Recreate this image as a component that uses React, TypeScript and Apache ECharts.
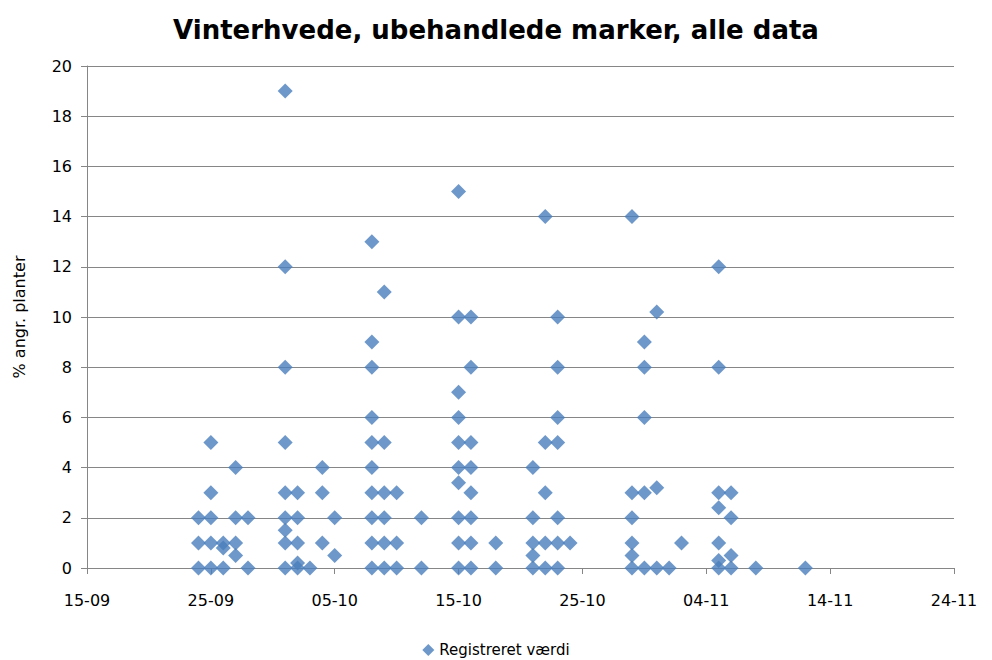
import React, { useEffect, useRef } from "react";
import * as echarts from "echarts";

const titleText = "Vinterhvede, ubehandlede marker, alle data";
const yAxisTitle = "% angr. planter";
const seriesName = "Registreret værdi";
const baseDate = "15-09";
const xTickLabels = ["15-09", "25-09", "05-10", "15-10", "25-10", "04-11", "14-11", "24-11"];

const obsDates = [
  "24-09", "25-09", "26-09", "27-09", "28-09",
  "01-10", "02-10", "03-10", "04-10", "05-10",
  "08-10", "09-10", "10-10", "12-10", "15-10",
  "16-10", "18-10", "21-10", "22-10", "23-10",
  "24-10", "29-10", "30-10", "31-10", "01-11",
  "02-11", "05-11", "06-11", "08-11", "12-11",
];
const obsValues: number[][] = [
  [2, 1, 0], [5, 3, 2, 1, 0], [1, 0.8, 0], [4, 2, 1, 0.5], [2, 0],
  [19, 12, 8, 5, 3, 2, 1.5, 1, 0], [3, 2, 1, 0.2, 0], [0], [4, 3, 1], [2, 0.5],
  [13, 9, 8, 6, 5, 4, 3, 2, 1, 0], [11, 5, 3, 2, 1, 0], [3, 1, 0], [2, 0], [15, 10, 7, 6, 5, 4, 3.4, 2, 1, 0],
  [10, 8, 5, 4, 3, 2, 1, 0], [1, 0], [4, 2, 1, 0.5, 0], [14, 5, 3, 1, 0], [10, 8, 6, 5, 2, 1, 0],
  [1], [14, 3, 2, 1, 0.5, 0], [9, 8, 6, 3, 0], [10.2, 3.2, 0], [0],
  [1], [12, 8, 3, 2.4, 1, 0.3, 0], [3, 2, 0.5, 0], [0], [0],
];

function dayOffset(s: string): number {
  const [d, m] = s.split("-").map(Number);
  const [bd, bm] = baseDate.split("-").map(Number);
  return Math.round((Date.UTC(2010, m - 1, d) - Date.UTC(2010, bm - 1, bd)) / 86400000);
}

export default function App() {
  const ref = useRef<HTMLDivElement>(null);
  useEffect(() => {
    document.body.style.margin = "0";
    if (!ref.current) return;
    const chart = echarts.init(ref.current, undefined, { renderer: "svg" });
    const points: number[][] = [];
    obsDates.forEach((d, i) => {
      const x = dayOffset(d);
      obsValues[i].forEach((v) => points.push([x, v]));
    });
    const font = "'DejaVu Sans', sans-serif";
    chart.setOption({
      animation: false,
      backgroundColor: "#ffffff",
      textStyle: { fontFamily: font },
      title: {
        text: titleText,
        left: "center",
        top: 12,
        textStyle: { fontFamily: font, fontSize: 26, fontWeight: "bold", color: "#000000" },
      },
      legend: {
        top: 642,
        left: "center",
        padding: 0,
        icon: "diamond",
        itemWidth: 12,
        itemHeight: 12,
        itemGap: 4,
        textStyle: { fontFamily: font, fontSize: 15, lineHeight: 16, color: "#000000" },
        data: [seriesName],
      },
      grid: { left: 87, right: 38, top: 66, bottom: 92, containLabel: false },
      xAxis: {
        type: "value",
        min: 0,
        max: 70,
        interval: 10,
        axisLine: { show: true, lineStyle: { color: "#868686", width: 1 } },
        axisTick: { show: true, length: 6, lineStyle: { color: "#868686" } },
        splitLine: { show: false },
        axisLabel: {
          fontFamily: font,
          fontSize: 16,
          color: "#000000",
          margin: 24,
          formatter: (v: number) => xTickLabels[Math.round(v / 10)] ?? "",
        },
      },
      yAxis: {
        type: "value",
        min: 0,
        max: 20,
        interval: 2,
        name: yAxisTitle,
        nameLocation: "middle",
        nameRotate: 90,
        nameGap: 60,
        nameTextStyle: { fontFamily: font, fontSize: 16, color: "#000000" },
        axisLine: { show: true, lineStyle: { color: "#868686", width: 1 } },
        axisTick: { show: true, length: 6, lineStyle: { color: "#868686" } },
        splitLine: { show: true, lineStyle: { color: "#868686", width: 1 } },
        axisLabel: { fontFamily: font, fontSize: 16, color: "#000000", margin: 15 },
      },
      series: [
        {
          name: seriesName,
          type: "scatter",
          symbol: "diamond",
          symbolSize: 15,
          itemStyle: { color: "#4A7EBB" },
          data: points,
        },
      ],
    });
    return () => chart.dispose();
  }, []);
  return <div ref={ref} style={{ width: 992, height: 660 }} />;
}
